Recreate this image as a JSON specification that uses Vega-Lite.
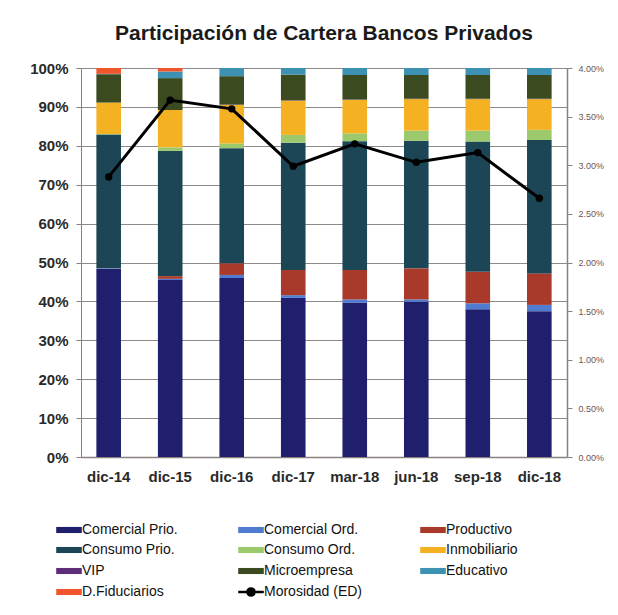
{
  "$schema": "https://vega.github.io/schema/vega-lite/v6.json",
  "width": 486,
  "height": 389,
  "autosize": {"type": "none"},
  "padding": {"left": 81, "top": 68, "right": 51, "bottom": 158},
  "background": "white",
  "title": {
    "text": "Participación de Cartera Bancos Privados",
    "font": "Liberation Sans, sans-serif",
    "fontSize": 21,
    "fontWeight": "bold",
    "color": "#1a1a1a",
    "anchor": "middle",
    "offset": 17
  },
  "config": {
    "view": {"stroke": null},
    "font": "Liberation Sans, sans-serif"
  },
  "datasets": {
    "cartera": [
      {"fecha": "dic-14", "serie": "Comercial Prio.", "ord": 1, "v": 48.5},
      {"fecha": "dic-14", "serie": "Comercial Ord.", "ord": 2, "v": 0.1},
      {"fecha": "dic-14", "serie": "Productivo", "ord": 3, "v": 0.0},
      {"fecha": "dic-14", "serie": "Consumo Prio.", "ord": 4, "v": 34.5},
      {"fecha": "dic-14", "serie": "Consumo Ord.", "ord": 5, "v": 0.1},
      {"fecha": "dic-14", "serie": "Inmobiliario", "ord": 6, "v": 8.1},
      {"fecha": "dic-14", "serie": "VIP", "ord": 7, "v": 0.0},
      {"fecha": "dic-14", "serie": "Microempresa", "ord": 8, "v": 7.3},
      {"fecha": "dic-14", "serie": "Educativo", "ord": 9, "v": 0.1},
      {"fecha": "dic-14", "serie": "D.Fiduciarios", "ord": 10, "v": 1.5},

      {"fecha": "dic-15", "serie": "Comercial Prio.", "ord": 1, "v": 45.5},
      {"fecha": "dic-15", "serie": "Comercial Ord.", "ord": 2, "v": 0.3},
      {"fecha": "dic-15", "serie": "Productivo", "ord": 3, "v": 0.7},
      {"fecha": "dic-15", "serie": "Consumo Prio.", "ord": 4, "v": 32.2},
      {"fecha": "dic-15", "serie": "Consumo Ord.", "ord": 5, "v": 0.9},
      {"fecha": "dic-15", "serie": "Inmobiliario", "ord": 6, "v": 9.6},
      {"fecha": "dic-15", "serie": "VIP", "ord": 7, "v": 0.0},
      {"fecha": "dic-15", "serie": "Microempresa", "ord": 8, "v": 8.2},
      {"fecha": "dic-15", "serie": "Educativo", "ord": 9, "v": 1.7},
      {"fecha": "dic-15", "serie": "D.Fiduciarios", "ord": 10, "v": 0.9},

      {"fecha": "dic-16", "serie": "Comercial Prio.", "ord": 1, "v": 46.0},
      {"fecha": "dic-16", "serie": "Comercial Ord.", "ord": 2, "v": 0.8},
      {"fecha": "dic-16", "serie": "Productivo", "ord": 3, "v": 3.0},
      {"fecha": "dic-16", "serie": "Consumo Prio.", "ord": 4, "v": 29.6},
      {"fecha": "dic-16", "serie": "Consumo Ord.", "ord": 5, "v": 1.2},
      {"fecha": "dic-16", "serie": "Inmobiliario", "ord": 6, "v": 9.9},
      {"fecha": "dic-16", "serie": "VIP", "ord": 7, "v": 0.1},
      {"fecha": "dic-16", "serie": "Microempresa", "ord": 8, "v": 7.3},
      {"fecha": "dic-16", "serie": "Educativo", "ord": 9, "v": 2.1},
      {"fecha": "dic-16", "serie": "D.Fiduciarios", "ord": 10, "v": 0.0},

      {"fecha": "dic-17", "serie": "Comercial Prio.", "ord": 1, "v": 40.9},
      {"fecha": "dic-17", "serie": "Comercial Ord.", "ord": 2, "v": 0.7},
      {"fecha": "dic-17", "serie": "Productivo", "ord": 3, "v": 6.5},
      {"fecha": "dic-17", "serie": "Consumo Prio.", "ord": 4, "v": 32.7},
      {"fecha": "dic-17", "serie": "Consumo Ord.", "ord": 5, "v": 2.0},
      {"fecha": "dic-17", "serie": "Inmobiliario", "ord": 6, "v": 8.8},
      {"fecha": "dic-17", "serie": "VIP", "ord": 7, "v": 0.1},
      {"fecha": "dic-17", "serie": "Microempresa", "ord": 8, "v": 6.6},
      {"fecha": "dic-17", "serie": "Educativo", "ord": 9, "v": 1.7},
      {"fecha": "dic-17", "serie": "D.Fiduciarios", "ord": 10, "v": 0.0},

      {"fecha": "mar-18", "serie": "Comercial Prio.", "ord": 1, "v": 39.7},
      {"fecha": "mar-18", "serie": "Comercial Ord.", "ord": 2, "v": 0.8},
      {"fecha": "mar-18", "serie": "Productivo", "ord": 3, "v": 7.6},
      {"fecha": "mar-18", "serie": "Consumo Prio.", "ord": 4, "v": 33.1},
      {"fecha": "mar-18", "serie": "Consumo Ord.", "ord": 5, "v": 2.0},
      {"fecha": "mar-18", "serie": "Inmobiliario", "ord": 6, "v": 8.6},
      {"fecha": "mar-18", "serie": "VIP", "ord": 7, "v": 0.1},
      {"fecha": "mar-18", "serie": "Microempresa", "ord": 8, "v": 6.3},
      {"fecha": "mar-18", "serie": "Educativo", "ord": 9, "v": 1.8},
      {"fecha": "mar-18", "serie": "D.Fiduciarios", "ord": 10, "v": 0.0},

      {"fecha": "jun-18", "serie": "Comercial Prio.", "ord": 1, "v": 39.9},
      {"fecha": "jun-18", "serie": "Comercial Ord.", "ord": 2, "v": 0.6},
      {"fecha": "jun-18", "serie": "Productivo", "ord": 3, "v": 8.0},
      {"fecha": "jun-18", "serie": "Consumo Prio.", "ord": 4, "v": 32.8},
      {"fecha": "jun-18", "serie": "Consumo Ord.", "ord": 5, "v": 2.6},
      {"fecha": "jun-18", "serie": "Inmobiliario", "ord": 6, "v": 8.1},
      {"fecha": "jun-18", "serie": "VIP", "ord": 7, "v": 0.1},
      {"fecha": "jun-18", "serie": "Microempresa", "ord": 8, "v": 6.1},
      {"fecha": "jun-18", "serie": "Educativo", "ord": 9, "v": 1.8},
      {"fecha": "jun-18", "serie": "D.Fiduciarios", "ord": 10, "v": 0.0},

      {"fecha": "sep-18", "serie": "Comercial Prio.", "ord": 1, "v": 38.0},
      {"fecha": "sep-18", "serie": "Comercial Ord.", "ord": 2, "v": 1.5},
      {"fecha": "sep-18", "serie": "Productivo", "ord": 3, "v": 8.1},
      {"fecha": "sep-18", "serie": "Consumo Prio.", "ord": 4, "v": 33.5},
      {"fecha": "sep-18", "serie": "Consumo Ord.", "ord": 5, "v": 2.8},
      {"fecha": "sep-18", "serie": "Inmobiliario", "ord": 6, "v": 8.1},
      {"fecha": "sep-18", "serie": "VIP", "ord": 7, "v": 0.1},
      {"fecha": "sep-18", "serie": "Microempresa", "ord": 8, "v": 6.1},
      {"fecha": "sep-18", "serie": "Educativo", "ord": 9, "v": 1.8},
      {"fecha": "sep-18", "serie": "D.Fiduciarios", "ord": 10, "v": 0.0},

      {"fecha": "dic-18", "serie": "Comercial Prio.", "ord": 1, "v": 37.5},
      {"fecha": "dic-18", "serie": "Comercial Ord.", "ord": 2, "v": 1.6},
      {"fecha": "dic-18", "serie": "Productivo", "ord": 3, "v": 8.1},
      {"fecha": "dic-18", "serie": "Consumo Prio.", "ord": 4, "v": 34.3},
      {"fecha": "dic-18", "serie": "Consumo Ord.", "ord": 5, "v": 2.6},
      {"fecha": "dic-18", "serie": "Inmobiliario", "ord": 6, "v": 7.9},
      {"fecha": "dic-18", "serie": "VIP", "ord": 7, "v": 0.1},
      {"fecha": "dic-18", "serie": "Microempresa", "ord": 8, "v": 6.1},
      {"fecha": "dic-18", "serie": "Educativo", "ord": 9, "v": 1.8},
      {"fecha": "dic-18", "serie": "D.Fiduciarios", "ord": 10, "v": 0.0}
    ],
    "morosidad": [
      {"fecha": "dic-14", "mor": 0.0288},
      {"fecha": "dic-15", "mor": 0.0367},
      {"fecha": "dic-16", "mor": 0.0358},
      {"fecha": "dic-17", "mor": 0.0299},
      {"fecha": "mar-18", "mor": 0.0322},
      {"fecha": "jun-18", "mor": 0.0303},
      {"fecha": "sep-18", "mor": 0.0313},
      {"fecha": "dic-18", "mor": 0.0266}
    ]
  },
  "encoding": {
    "x": {
      "field": "fecha",
      "type": "nominal",
      "sort": ["dic-14", "dic-15", "dic-16", "dic-17", "mar-18", "jun-18", "sep-18", "dic-18"],
      "scale": {"paddingInner": 0.6, "paddingOuter": 0.25},
      "axis": {
        "title": null,
        "labelAngle": 0,
        "labelFontSize": 15,
        "labelFontWeight": "bold",
        "labelColor": "#2a2a2a",
        "labelPadding": 12,
        "ticks": false,
        "domainColor": "#8a8080",
        "domainWidth": 1.5
      }
    }
  },
  "layer": [
    {
      "data": {"name": "cartera"},
      "mark": {"type": "bar"},
      "encoding": {
        "y": {
          "field": "v",
          "type": "quantitative",
          "stack": "normalize",
          "scale": {"domain": [0, 1]},
          "axis": {
            "title": null,
            "format": ".0%",
            "values": [0, 0.1, 0.2, 0.3, 0.4, 0.5, 0.6, 0.7, 0.8, 0.9, 1],
            "labelFontSize": 15,
            "labelFontWeight": "bold",
            "labelColor": "#2a2a2a",
            "labelPadding": 8,
            "tickSize": 5,
            "tickColor": "#8a8080",
            "domainColor": "#8a8080",
            "grid": true,
            "gridColor": "#8f8a8a",
            "gridWidth": 1.2
          }
        },
        "order": {"field": "ord", "type": "quantitative"},
        "color": {
          "field": "serie",
          "type": "nominal",
          "scale": {
            "domain": ["Comercial Prio.", "Comercial Ord.", "Productivo", "Consumo Prio.", "Consumo Ord.", "Inmobiliario", "VIP", "Microempresa", "Educativo", "D.Fiduciarios", "Morosidad (ED)"],
            "range": ["#1f1f6e", "#4f7bd0", "#a93a2b", "#1c4656", "#9cc96b", "#f4b122", "#5e2d79", "#3b4a1f", "#3d91b3", "#f0552b", "#000000"]
          },
          "legend": {
            "title": null,
            "orient": "none",
            "direction": "horizontal",
            "legendX": -19,
            "legendY": 454,
            "columns": 3,
            "gridAlign": "all",
            "columnPadding": 52,
            "rowPadding": 3,
            "padding": 0,
            "symbolSize": 256,
            "labelOffset": 6,
            "labelFontSize": 14,
            "labelColor": "#111111",
            "labelLimit": 200,
            "encode": {
              "symbols": {
                "update": {
                  "shape": {"signal": "datum.value === 'Morosidad (ED)' ? 'M-1.6,0L1.6,0M-0.45,0A0.45,0.45 0 1,0 0.45,0A0.45,0.45 0 1,0 -0.45,0Z' : 'M-1.6,-0.38L1.6,-0.38L1.6,0.38L-1.6,0.38Z'"},
                  "stroke": {"signal": "datum.value === 'Morosidad (ED)' ? '#000000' : 'transparent'"},
                  "strokeWidth": {"signal": "datum.value === 'Morosidad (ED)' ? 2.5 : 0"}
                }
              }
            }
          }
        }
      }
    },
    {
      "data": {"name": "morosidad"},
      "mark": {"type": "line", "color": "#111111", "strokeWidth": 3, "point": {"filled": true, "size": 55, "color": "#111111"}},
      "encoding": {
        "y": {
          "field": "mor",
          "type": "quantitative",
          "scale": {"domain": [0, 0.04]},
          "axis": {
            "orient": "right",
            "title": null,
            "format": ".2%",
            "values": [0, 0.005, 0.01, 0.015, 0.02, 0.025, 0.03, 0.035, 0.04],
            "labelFontSize": 9,
            "labelColor": "#6b5555",
            "labelPadding": 6,
            "tickSize": 5,
            "tickColor": "#8a8080",
            "domainColor": "#8a8080",
            "domainWidth": 1.5,
            "grid": false
          }
        },
        "color": {"datum": "Morosidad (ED)"}
      }
    }
  ],
  "resolve": {"scale": {"y": "independent"}}
}
